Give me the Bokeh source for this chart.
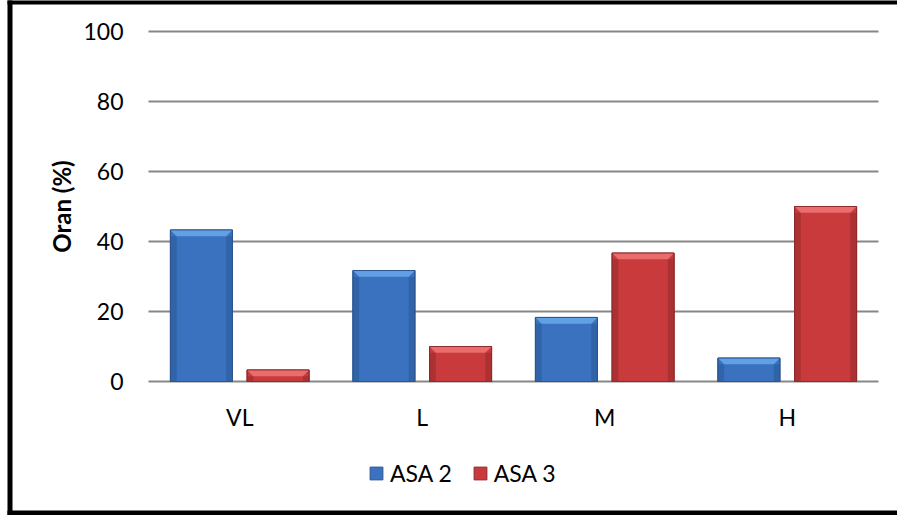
import math

from bokeh.plotting import figure
from bokeh.models import ColumnDataSource, Legend, LegendItem, Range1d
from bokeh.core.properties import value
from bokeh.embed import file_html
from bokeh.resources import INLINE

# Share of patients (%) per category, by ASA class
categories = ["VL", "L", "M", "H"]
asa2 = [43.3, 31.7, 18.3, 6.7]
asa3 = [3.3, 10.0, 36.7, 50.0]
y_ticks = [0, 20, 40, 60, 80, 100]
y_title = "Oran (%)"

W, H = 897, 515
FONT = "Lato"
BAR_W = 0.34      # bar width, in category units
OFFSET = 0.21     # dodge of each series from the category centre
BEVEL_H = 1.8     # height of the top bevel, in % units
BEVEL_D = 0.034   # inset of the bevel, in category units

# plot area in canvas pixels: categories span PLOT_L..PLOT_R, 0..100 % span PLOT_B..PLOT_T
PLOT_L, PLOT_R, PLOT_T, PLOT_B = 148, 878, 31, 381
n = len(categories)
px_per_cat = (PLOT_R - PLOT_L) / n
px_per_pct = (PLOT_B - PLOT_T) / 100.0


def xd(px):
    return -0.5 + (px - PLOT_L) / px_per_cat


def yd(py):
    return (PLOT_B - py) / px_per_pct


# the frame covers the whole canvas; labels and frame lines are drawn as glyphs
p = figure(
    width=W, height=H,
    x_range=Range1d(xd(0), xd(W)), y_range=Range1d(yd(H), yd(0)),
    output_backend="svg", toolbar_location=None,
    min_border=0, min_border_left=0, min_border_right=0,
    min_border_top=0, min_border_bottom=0,
)
p.xaxis.visible = False
p.yaxis.visible = False
p.grid.visible = False
p.outline_line_color = None
p.background_fill_color = "white"
p.border_fill_color = "white"

# horizontal gridlines at the value ticks
p.segment(x0=-0.5, x1=n - 0.5, y0=y_ticks, y1=y_ticks,
          line_color="#878787", line_width=1.8)

# value tick labels and axis title
p.text(x=xd(123), y=y_ticks, text=[str(t) for t in y_ticks],
       text_font=value(FONT), text_font_size="23px", text_color="black",
       text_align="right", text_baseline="middle")
p.text(x=[xd(61)], y=[50], text=[y_title], angle=math.pi / 2,
       text_font=value(FONT), text_font_size="24px", text_font_style="bold",
       text_color="black", text_align="center", text_baseline="middle")

# category labels under the baseline
p.text(x=list(range(n)), y=yd(416), text=categories,
       text_font=value(FONT), text_font_size="23px", text_color="black",
       text_align="center", text_baseline="middle")


def draw_series(values, shift, fill, top_fill, side_fill, line):
    xs = [i + shift for i in range(len(values))]
    src = ColumnDataSource(dict(x=xs, top=values))
    bar = p.vbar(x="x", top="top", bottom=0, width=BAR_W, source=src,
                 fill_color=fill, line_color=line, line_width=1)
    # darker side bevels
    p.quad(left=[x - BAR_W / 2 for x in xs],
           right=[x - BAR_W / 2 + BEVEL_D for x in xs],
           top=[v - BEVEL_H for v in values], bottom=0,
           fill_color=side_fill, fill_alpha=0.55, line_color=None)
    p.quad(left=[x + BAR_W / 2 - BEVEL_D for x in xs],
           right=[x + BAR_W / 2 for x in xs],
           top=[v - BEVEL_H for v in values], bottom=0,
           fill_color=side_fill, fill_alpha=0.55, line_color=None)
    # lighter top bevel
    px = [[x - BAR_W / 2, x + BAR_W / 2, x + BAR_W / 2 - BEVEL_D, x - BAR_W / 2 + BEVEL_D]
          for x in xs]
    py = [[v, v, v - BEVEL_H, v - BEVEL_H] for v in values]
    p.patches(px, py, fill_color=top_fill, line_color=None)
    # outline on top
    p.vbar(x="x", top="top", bottom=0, width=BAR_W, source=src,
           fill_alpha=0, line_color=line, line_width=1)
    return bar


r2 = draw_series(asa2, -OFFSET, "#3a72bf", "#62a0e6", "#2a5896", "#2c5690")
r3 = draw_series(asa3, OFFSET, "#c83a3b", "#ea6c6c", "#962a2b", "#8e2b2c")

# black chart border on the left, top and bottom
p.quad(left=[xd(7), xd(7), xd(7)], right=[xd(12), xd(W + 5), xd(W + 5)],
       top=[yd(-5), yd(-5), yd(510)], bottom=[yd(H + 5), yd(4), yd(H + 5)],
       fill_color="black", line_color=None)

legend = Legend(
    items=[LegendItem(label="ASA 2", renderers=[r2]),
           LegendItem(label="ASA 3", renderers=[r3])],
    orientation="horizontal", location=(368, 28),
    padding=0, margin=0, spacing=20,
    glyph_width=16, glyph_height=16, label_standoff=6,
    label_text_font=FONT, label_text_font_size="23px", label_text_color="black",
    border_line_color=None, background_fill_alpha=0,
)
p.add_layout(legend)

open("out.html", "w").write(file_html(p, INLINE))
